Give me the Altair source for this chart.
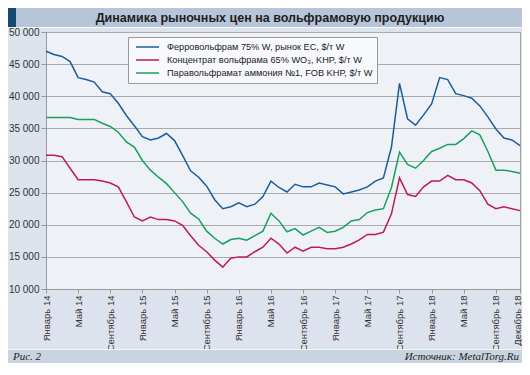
import altair as alt
import pandas as pd

# ---- data -------------------------------------------------------------
series_names = [
    "Ферровольфрам 75% W, рынок ЕС, $/т W",
    "Концентрат вольфрама 65% WO₃, KHP, $/т W",
    "Паравольфрамат аммония №1, FOB KHP, $/т W",
]
series_colors = ["#1b5e9e", "#c2185b", "#18a05c"]

ferro = [47000, 46500, 46200, 45400, 42900, 42600, 42200, 40700, 40400, 38900,
         37000, 35400, 33700, 33200, 33500, 34200, 33100, 30800, 28400, 27400,
         26000, 23900, 22500, 22800, 23400, 22800, 23200, 24400, 26800, 25800,
         25100, 26300, 25900, 25900, 26500, 26200, 25900, 24800, 25100, 25400,
         25900, 26800, 27300, 32100, 42000, 36500, 35500, 37100, 38800, 42900,
         42600, 40400, 40100, 39700, 38500, 36800, 34900, 33500, 33200, 32300]
conc = [30800, 30800, 30600, 28800, 27000, 27000, 27000, 26800, 26500, 25900,
        23600, 21200, 20600, 21200, 20800, 20800, 20600, 19900, 18300, 16800,
        15800, 14500, 13400, 14800, 15000, 15000, 15800, 16500, 17900, 17000,
        15600, 16500, 15900, 16500, 16500, 16250, 16250, 16500, 17000, 17650,
        18500, 18500, 18850, 21700, 27300, 24700, 24400, 25900, 26800, 26800,
        27700, 27000, 27000, 26500, 25300, 23200, 22500, 22800, 22500, 22200]
apt = [36700, 36700, 36700, 36700, 36400, 36400, 36400, 35800, 35300, 34400,
       32900, 32100, 30000, 28500, 27400, 26400, 25000, 23600, 21800, 20900,
       19000, 17900, 17000, 17700, 17900, 17600, 18300, 19000, 21800, 20600,
       18900, 19400, 18400, 19000, 19600, 18800, 19000, 19600, 20600, 20800,
       21900, 22300, 22500, 25800, 31300, 29400, 28800, 30000, 31400, 31900,
       32500, 32500, 33400, 34600, 34000, 31400, 28500, 28500, 28300, 28000]

tick_months = [0, 4, 8, 12, 16, 20, 24, 28, 32, 36, 40, 44, 48, 52, 56, 59]
tick_labels = ["Январь 14", "Май 14", "Сентябрь 14", "Январь 15", "Май 15",
               "Сентябрь 15", "Январь 16", "Май 16", "Сентябрь 16", "Январь 17",
               "Май 17", "Сентябрь 17", "Январь 18", "Май 18", "Сентябрь 18",
               "Декабрь 18"]
y_ticks = [10000, 15000, 20000, 25000, 30000, 35000, 40000, 45000, 50000]

title_text = "Динамика рыночных цен на вольфрамовую продукцию"
fig_text = "Рис. 2"
source_text = "Источник: MetalTorg.Ru"

# ---- build table -------------------------------------------------------
rows = []
for name, vals in zip(series_names, [ferro, conc, apt]):
    for i, v in enumerate(vals):
        rows.append({"month": i, "value": v, "series": name})
df = pd.DataFrame(rows)

labels_js = "[" + ",".join("'" + t + "'" for t in tick_labels) + "]"
ticks_js = "[" + ",".join(str(t) for t in tick_months) + "]"

W, H = 474, 257
PL, PT, PR = 38, 24, 2
TOTAL_H = 355
PB = TOTAL_H - PT - H

lines = alt.Chart(df).mark_line(strokeWidth=1.5).encode(
    x=alt.X("month:Q",
            scale=alt.Scale(domain=[0, 59], nice=False, zero=False),
            axis=alt.Axis(values=tick_months, title=None, grid=False,
                          labelAngle=270, labelPadding=2, tickSize=4,
                          labelFontSize=9.5,
                          labelOffset={"condition": {"test": "datum.value == 59", "value": -3},
                                       "value": 0},
                          labelExpr=f"{labels_js}[indexof({ticks_js}, datum.value)]")),
    y=alt.Y("value:Q",
            scale=alt.Scale(domain=[10000, 50000], nice=False, zero=False),
            axis=alt.Axis(values=y_ticks, title=None, grid=True, tickSize=5,
                          labelPadding=2,
                          labelExpr="replace(format(datum.value, ','), ',', ' ')")),
    color=alt.Color("series:N",
                    scale=alt.Scale(domain=series_names, range=series_colors),
                    sort=series_names,
                    legend=alt.Legend(title=None, orient="none", legendX=82, legendY=5,
                                      symbolType="M-0.4,0H4.2", symbolSize=100,
                                      symbolStrokeWidth=1.5, labelFontSize=9.2,
                                      labelFont="Liberation Sans", labelColor="#222",
                                      labelLimit=400, labelOffset=23, rowPadding=1,
                                      padding=4, fillColor="#f7f9fc",
                                      strokeColor="#9a9a9a")),
)

one = pd.DataFrame({"a": [0]})

header = alt.Chart(one).mark_rect(color="#b6c5d7").encode(
    x=alt.value(-PL), x2=alt.value(W + PR), y=alt.value(-PT), y2=alt.value(-5))
header_line = alt.Chart(one).mark_rect(color="#f4f7fa").encode(
    x=alt.value(-PL), x2=alt.value(W + PR), y=alt.value(-5), y2=alt.value(-4))
header_block = alt.Chart(one).mark_rect(color="#154a72").encode(
    x=alt.value(-PL), x2=alt.value(-PL + 8), y=alt.value(-PT), y2=alt.value(-5))
title = alt.Chart(one).mark_text(font="Liberation Sans", fontSize=12.5, fontWeight="bold",
                                 color="#1e1e1e", align="center", baseline="middle").encode(
    x=alt.value(224), y=alt.value(-14), text=alt.value(title_text))

footer_line = alt.Chart(one).mark_rect(color="#f4f7fa").encode(
    x=alt.value(-PL), x2=alt.value(W + PR), y=alt.value(H + PB - 14), y2=alt.value(H + PB - 13))
footer = alt.Chart(one).mark_rect(color="#c9d4e1").encode(
    x=alt.value(-PL), x2=alt.value(W + PR), y=alt.value(H + PB - 13), y2=alt.value(H + PB))
fig_lbl = alt.Chart(one).mark_text(font="Liberation Serif", fontSize=11, fontStyle="italic",
                                   color="#222", align="left", baseline="middle").encode(
    x=alt.value(-PL + 5), y=alt.value(H + PB - 6.5), text=alt.value(fig_text))
src_lbl = alt.Chart(one).mark_text(font="Liberation Serif", fontSize=11, fontStyle="italic",
                                   color="#222", align="right", baseline="middle").encode(
    x=alt.value(W - 1), y=alt.value(H + PB - 6.5), text=alt.value(source_text))

chart = alt.layer(header, header_line, header_block, title, footer_line, footer,
                  fig_lbl, src_lbl, lines).properties(
    width=W, height=H,
    autosize=alt.AutoSizeParams(type="none"),
    padding={"left": PL, "top": PT, "right": PR, "bottom": PB},
    background="#dce3ec",
).configure_view(
    fill="#eef2f7", stroke="#a0a0a0", strokeWidth=1
).configure_axis(
    gridColor="#ababab", gridWidth=1, domainColor="#999999", tickColor="#999999",
    labelColor="#333333", labelFont="Liberation Sans", labelFontSize=10
)

chart.save("out.html", embed_options={"renderer": "svg", "actions": False})
